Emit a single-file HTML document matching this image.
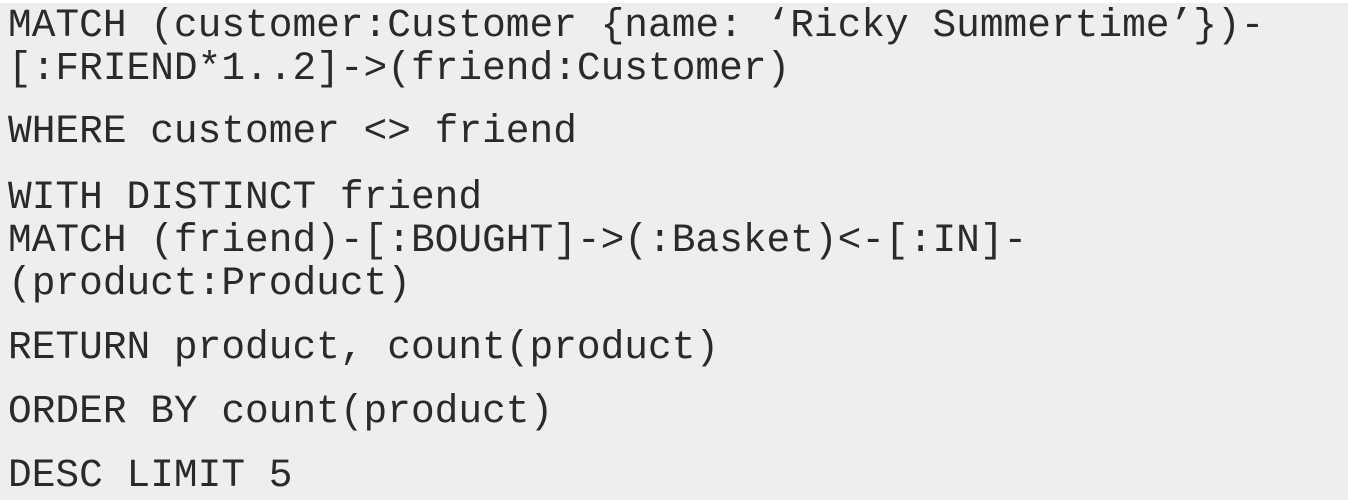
<!DOCTYPE html>
<html><head><meta charset="utf-8"><style>
html,body{margin:0;padding:0;}
body{width:1348px;height:500px;background:#fff;position:relative;overflow:hidden;}
.bg{position:absolute;left:0;top:3px;width:1348px;height:497px;background:#eeeeee;}
.l{position:absolute;left:8px;font-family:"Courier New","Nimbus Mono PS","Nimbus Mono L","FreeMono","Liberation Mono",monospace;font-size:39.5px;line-height:43px;height:43px;color:#2a2a2a;white-space:pre;}
</style></head><body>
<div class="bg"></div>
<div class="l" style="top:4px">MATCH (customer:Customer {name: ‘Ricky Summertime’})-</div>
<div class="l" style="top:47px">[:FRIEND*1..2]-&gt;(friend:Customer)</div>
<div class="l" style="top:110px">WHERE customer &lt;&gt; friend</div>
<div class="l" style="top:176px">WITH DISTINCT friend</div>
<div class="l" style="top:219px">MATCH (friend)-[:BOUGHT]-&gt;(:Basket)&lt;-[:IN]-</div>
<div class="l" style="top:262px">(product:Product)</div>
<div class="l" style="top:326px">RETURN product, count(product)</div>
<div class="l" style="top:390px">ORDER BY count(product)</div>
<div class="l" style="top:454px">DESC LIMIT 5</div>
</body></html>
